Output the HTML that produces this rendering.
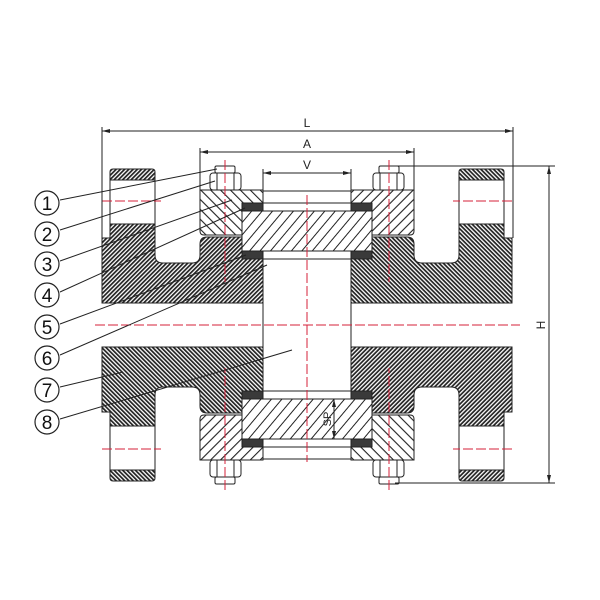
<!DOCTYPE html>
<html><head><meta charset="utf-8"><style>html,body{margin:0;padding:0;background:#fff}svg{display:block}</style></head>
<body>
<svg width="600" height="600" viewBox="0 0 600 600" xmlns="http://www.w3.org/2000/svg" font-family="Liberation Sans, sans-serif">
<defs>
<pattern id="hb" width="3" height="3" patternUnits="userSpaceOnUse" patternTransform="rotate(45)">
<rect width="3" height="3" fill="#fff"/><rect width="1.7" height="3" fill="#222"/></pattern>
<pattern id="hr" width="7" height="7" patternUnits="userSpaceOnUse" patternTransform="rotate(-45)">
<rect width="7" height="7" fill="#fff"/><rect width="1.1" height="7" fill="#222"/></pattern>
<pattern id="hg" width="8" height="8" patternUnits="userSpaceOnUse" patternTransform="rotate(40)">
<rect width="8" height="8" fill="#fff"/><rect width="1" height="8" fill="#222"/></pattern>
<marker id="ar" markerWidth="8" markerHeight="6" refX="8" refY="3" orient="auto-start-reverse" markerUnits="userSpaceOnUse"><path d="M0,1 L8,3 L0,5 Z" fill="#222"/></marker>
<g id="q" stroke="#222" stroke-width="1">
  <path d="M110,180 L110,172 Q110,169 113,169 L152,169 Q155,169 155,172 L155,180 Z" fill="url(#hb)"/>
  <rect x="110" y="180" width="45" height="44" fill="#fff"/>
  <path d="M102,238 L110,238 L110,224 L155,224 L155,255 Q155,263 163,263 L192,263 Q200,263 200,255 L200,244 Q200,237 207,237 L242,237 L242,259 L263,259 L263,303 L102,303 Z" fill="url(#hb)"/>
  <path d="M200,190 L263,190 L263,203 L242,203 L242,235 L204,235 Q200,235 200,231 Z" fill="url(#hr)"/>
  <rect x="242" y="203" width="21" height="8" fill="#3a3a3a"/>
  <rect x="242" y="251" width="21" height="8" fill="#3a3a3a"/>
  <rect x="215" y="166" width="20" height="7" rx="1.5" fill="#fff"/>
  <rect x="210" y="173" width="31" height="17" rx="3" fill="#fff"/>
  <line x1="217" y1="173" x2="217" y2="190"/><line x1="234" y1="173" x2="234" y2="190"/>
  <line x1="263" y1="191" x2="307" y2="191"/><line x1="263" y1="203" x2="307" y2="203"/>
  <line x1="263" y1="259" x2="307" y2="259"/>
  <line x1="263" y1="190" x2="263" y2="325"/>
  <g stroke="#d6203a" stroke-dasharray="10,3" stroke-width="1">
    <line x1="102" y1="201" x2="161" y2="201"/>
    <line x1="225" y1="160" x2="225" y2="282"/>
  </g>
</g>
<g id="half"><use href="#q"/><use href="#q" transform="translate(614,0) scale(-1,1)"/></g>
</defs>
<use href="#half"/>
<use href="#half" transform="translate(0,650) scale(1,-1)"/>
<rect x="242" y="211" width="130" height="40" fill="url(#hg)" stroke="#222"/>
<rect x="242" y="399" width="130" height="40" fill="url(#hg)" stroke="#222"/>
<g stroke="#d6203a" stroke-dasharray="10,3" stroke-width="1">
<line x1="307" y1="195" x2="307" y2="462"/>
<line x1="95" y1="325" x2="520" y2="325"/>
</g>
<g stroke="#222" stroke-width="1" fill="none">
<line x1="102" y1="127" x2="102" y2="238"/>
<line x1="513" y1="127" x2="513" y2="238"/>
<line x1="102" y1="131" x2="513" y2="131" marker-start="url(#ar)" marker-end="url(#ar)"/>
<line x1="200" y1="148" x2="200" y2="190"/>
<line x1="414" y1="148" x2="414" y2="190"/>
<line x1="200" y1="152" x2="414" y2="152" marker-start="url(#ar)" marker-end="url(#ar)"/>
<line x1="263" y1="169" x2="263" y2="190"/>
<line x1="351" y1="169" x2="351" y2="190"/>
<line x1="263" y1="173" x2="351" y2="173" marker-start="url(#ar)" marker-end="url(#ar)"/>
<line x1="395" y1="166" x2="555" y2="166"/>
<line x1="395" y1="483" x2="555" y2="483"/>
<line x1="549" y1="166" x2="549" y2="483" marker-start="url(#ar)" marker-end="url(#ar)"/>
<line x1="334" y1="399" x2="334" y2="439" marker-start="url(#ar)" marker-end="url(#ar)"/>
</g>
<g font-size="12" fill="#222" text-anchor="middle">
<text x="307" y="127">L</text>
<text x="307" y="148">A</text>
<text x="307" y="169">V</text>
<text transform="translate(545,325) rotate(-90)">H</text>
<text transform="translate(331,419) rotate(-90)" font-size="11">SP</text>
</g>
<g stroke="#222" stroke-width="1">
<line x1="60" y1="200" x2="217" y2="169"/>
<line x1="60" y1="230" x2="215" y2="181"/>
<line x1="60" y1="261" x2="232" y2="200"/>
<line x1="60" y1="292" x2="245" y2="208"/>
<line x1="60" y1="324" x2="246" y2="255"/>
<line x1="60" y1="355" x2="267" y2="265"/>
<line x1="60" y1="387" x2="123" y2="372"/>
<line x1="60" y1="419" x2="292" y2="350"/>
</g>
<g fill="#fff" stroke="#222" stroke-width="1.2">
<circle cx="47" cy="203" r="12"/><circle cx="47" cy="234" r="12"/><circle cx="47" cy="264" r="12"/><circle cx="47" cy="295" r="12"/>
<circle cx="47" cy="327" r="12"/><circle cx="47" cy="358" r="12"/><circle cx="47" cy="390" r="12"/><circle cx="47" cy="422" r="12"/>
</g>
<g font-size="19" fill="#111" text-anchor="middle">
<text x="47" y="210">1</text><text x="47" y="241">2</text><text x="47" y="271">3</text><text x="47" y="302">4</text>
<text x="47" y="334">5</text><text x="47" y="365">6</text><text x="47" y="397">7</text><text x="47" y="429">8</text>
</g>
</svg>
</body></html>
